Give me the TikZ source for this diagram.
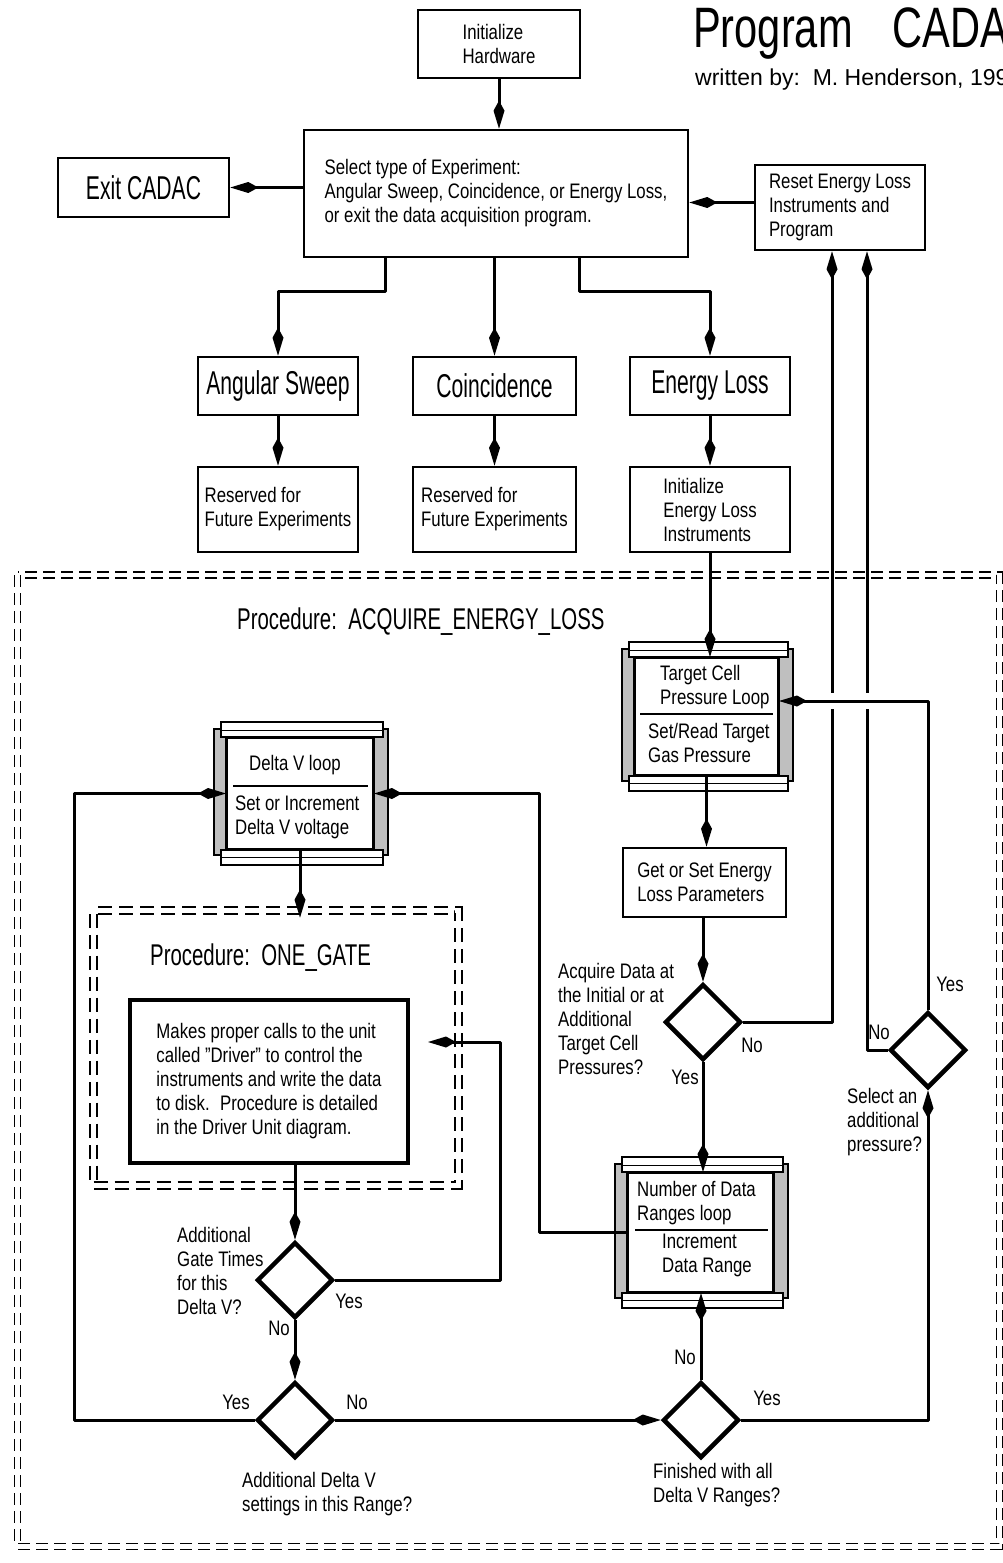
\documentclass[tikz,border=0pt]{standalone}
\usepackage{fontspec}
\setmainfont{Liberation Sans}[FakeStretch=0.8]
\newfontfamily\bigf{Liberation Sans}[FakeStretch=0.64]
\newfontfamily\procf{Liberation Sans}[FakeStretch=0.68]
\newfontfamily\titlef{Liberation Sans}[FakeStretch=0.73]
\newfontfamily\authf{Liberation Sans}
\usetikzlibrary{arrows.meta,shapes.geometric,calc,backgrounds}
\newcommand\txt{\fontsize{21}{24}\selectfont}
\newcommand\bigtxt{\bigf\fontsize{33}{36}\selectfont}
\newcommand\proctxt{\procf\fontsize{30}{32}\selectfont}
\newcommand\loopframe[1]{%
  \fill[gray!50] ($(#1.north west)+(-12,-8)$) rectangle ($(#1.south west)+(0,5)$);
  \draw[line width=1.2pt] ($(#1.north west)+(-12,-8)$) rectangle ($(#1.south west)+(0,5)$);
  \fill[gray!50] ($(#1.north east)+(0,-8)$) rectangle ($(#1.south east)+(14,5)$);
  \draw[line width=1.2pt] ($(#1.north east)+(0,-8)$) rectangle ($(#1.south east)+(14,5)$);
  \draw[line width=1.5pt,fill=white] ($(#1.north west)+(-5,-15)$) rectangle ($(#1.north east)+(9,0)$);
  \draw[line width=1pt] ($(#1.north west)+(-5,-7)$) -- ($(#1.north east)+(9,-7)$);
  \draw[line width=1.5pt,fill=white] ($(#1.south west)+(-5,0)$) rectangle ($(#1.south east)+(9,15)$);
  \draw[line width=1pt] ($(#1.south west)+(-5,7)$) -- ($(#1.south east)+(9,7)$);
}
\tikzset{
  box/.style={draw, line width=2.6pt, inner sep=0pt, align=left, font=\txt, fill=white},
  bigbox/.style={box, font=\bigtxt, align=center},
  loopbox/.style={draw, line width=2pt, inner sep=0pt, fill=white},
  dia/.style={draw, diamond, aspect=1, line width=4.5pt, inner sep=0pt, minimum width=76pt, minimum height=76pt},
  conn/.style={line width=3pt, line join=round},
  arr/.style={conn, -{Kite[length=28pt,width=11pt,inset=10pt]}},
  lbl/.style={font=\txt, inner sep=0pt},
  qtext/.style={font=\txt, inner sep=0pt, align=left},
  divider/.style={line width=1.6pt},
  dbldash/.style={draw, line width=1.5pt, double, double distance=4.5pt, dash pattern=on 12pt off 6pt},
}
\begin{document}
\begin{tikzpicture}[x=1pt,y=-1pt]
\useasboundingbox (0,0) rectangle (1003,1563);
\clip (0,0) rectangle (1003,1563);

% title
\node[anchor=base west, inner sep=0pt, font=\titlef\fontsize{57}{60}\selectfont] (title) at (693,48) {Program\hspace{40pt}CADAC};
\node[anchor=base west, inner sep=0pt, font=\authf\fontsize{23}{26}\selectfont] (author) at (695,85) {written by:\ \ M. Henderson, 199};

% dashed procedure frames
\draw[dbldash] (17.5,575) rectangle (999.5,1546.5);
\node[dbldash, minimum width=365pt, minimum height=275pt, inner sep=0pt, line width=1.6pt, double distance=5.5pt, dash pattern=on 14pt off 7pt] (og) at (276,1048) {};

\node[font=\proctxt, inner sep=0pt, anchor=west] (procacq) at (237,622) {Procedure:\ \ ACQUIRE\_ENERGY\_LOSS};
\node[font=\proctxt, inner sep=0pt, anchor=west] (procone) at (150,958) {Procedure:\ \ ONE\_GATE};

% top boxes
\node[box, minimum width=162pt, minimum height=68pt] (init) at (499,44) {Initialize\\Hardware};
\node[box, minimum width=384pt, minimum height=127pt] (select) at (496,193.5)
  {Select type of Experiment:\\Angular Sweep, Coincidence, or Energy Loss,\\or exit the data acquisition program.};
\node[bigbox, minimum width=171pt, minimum height=59pt] (exitc) at (143.5,187.5) {Exit\hspace{6pt}CADAC};
\node[box, minimum width=170pt, minimum height=85pt] (reset) at (840,207.5) {Reset Energy Loss\\Instruments and\\Program};

\node[bigbox, minimum width=160pt, minimum height=58pt] (angular) at (278,386) {Angular Sweep};
\node[bigbox, minimum width=163pt, minimum height=58pt] (coinc) at (494.5,386) {Coincidence};
\node[bigbox, minimum width=160pt, minimum height=58pt] (eloss) at (710,386) {Energy Loss};

\node[box, minimum width=160pt, minimum height=85pt] (res1) at (278,509.5) {Reserved for\\Future Experiments};
\node[box, minimum width=163pt, minimum height=85pt] (res2) at (494.5,509.5) {Reserved for\\Future Experiments};
\node[box, minimum width=160pt, minimum height=85pt] (initel) at (710,509.5) {Initialize\\Energy Loss\\Instruments};

% loop boxes (inner rectangles)
\node[loopbox, minimum width=143pt, minimum height=117pt] (tloop) at (706.5,716.5) {};
\node[loopbox, minimum width=146pt, minimum height=111pt] (dloop) at (300,793.5) {};
\node[loopbox, minimum width=145pt, minimum height=119pt] (nloop) at (700.5,1232.5) {};
\begin{scope}[on background layer]
  \loopframe{tloop}
  \loopframe{dloop}
  \loopframe{nloop}
\end{scope}
\node[qtext, anchor=west] (tl1) at (660,687) {Target Cell\\Pressure Loop};
\draw[divider] (640,714) -- (773,714);
\node[qtext, anchor=west] (tl2) at (648,743) {Set/Read Target\\Gas Pressure};

\node[qtext] (dl1) at (295,765) {Delta V loop};
\draw[divider] (233,786) -- (368,786);
\node[qtext, anchor=west] (dl2) at (235,817) {Set or Increment\\Delta V voltage};

\node[qtext, anchor=west] (nl1) at (637,1203) {Number of Data\\Ranges loop};
\draw[divider] (635,1230) -- (768,1230);
\node[qtext, anchor=west] (nl2) at (662,1255) {Increment\\Data Range};

\node[box, minimum width=163pt, minimum height=69pt] (getset) at (704.5,882.5) {Get or Set Energy\\Loss Parameters};
\node[box, line width=4pt, minimum width=278pt, minimum height=163pt] (makes) at (269,1081.5)
  {Makes proper calls to the unit\\called "Driver" to control the\\instruments and write the data\\to disk.\enspace Procedure is detailed\\in the Driver Unit diagram.};

% decisions
\node[dia] (acq) at (703,1022) {};
\node[dia] (gate) at (295,1280) {};
\node[dia] (dv) at (295,1420) {};
\node[dia] (fin) at (701,1420) {};
\node[dia] (selp) at (928,1050) {};

\node[qtext, anchor=west] (acqq) at (558,1018.5) {Acquire Data at\\the Initial or at\\Additional\\Target Cell\\Pressures?};
\node[qtext, anchor=west] (gateq) at (177,1271) {Additional\\Gate Times\\for this\\Delta V?};
\node[qtext, anchor=west] (dvq) at (242,1494) {Additional Delta V\\settings in this Range?};
\node[qtext, anchor=west] (finq) at (653,1485) {Finished with all\\Delta V Ranges?};
\node[qtext, anchor=west] (selpq) at (847,1122) {Select an\\additional\\pressure?};

\node[lbl] (acqno) at (752,1045) {No};
\node[lbl] (acqyes) at (685,1077) {Yes};
\node[lbl] (selpyes) at (950,984) {Yes};
\node[lbl] (selpno) at (879,1032) {No};
\node[lbl] (gateyes) at (349,1301) {Yes};
\node[lbl] (gateno) at (279,1328) {No};
\node[lbl] (dvyes) at (236,1402) {Yes};
\node[lbl] (dvno) at (357,1402) {No};
\node[lbl] (finno) at (685,1357) {No};
\node[lbl] (finyes) at (767,1398) {Yes};

% connectors (top part)
\draw[arr] (init.south) -- (init.south |- select.north);
\draw[arr] (select.west |- exitc.east) -- (exitc.east);
\draw[arr] ([yshift=5pt]reset.west) -- ([yshift=5pt]reset.west -| select.east);
\draw[arr] ([xshift=-111pt]select.south) -- ++(0,33) -| (angular.north);
\draw[arr] (coinc.north |- select.south) -- (coinc.north);
\draw[arr] ([xshift=83pt]select.south) -- ++(0,33) -| (eloss.north);
\draw[arr] (angular.south) -- (res1.north);
\draw[arr] (coinc.south) -- (res2.north);
\draw[arr] (eloss.south) -- (initel.south |- initel.north);
\draw[arr] (initel.south) -- (initel.south |- tloop.north);

% energy loss procedure
\draw[arr] (tloop.south) -- (tloop.south |- getset.north);
\draw[arr] (getset.south -| acq.north) -- (acq.north);
\draw[arr] (acq.south) -- (acq.south |- nloop.north);
\draw[arr] (acq.east) -| ([xshift=-8pt]reset.south);
\draw[arr] (selp.west) -| ([xshift=27pt]reset.south);
\draw[white, line width=16pt] ([yshift=15.5pt,xshift=25pt]tloop.east) -- ([yshift=15.5pt]tloop.east -| selp.north);
\draw[arr] (selp.north) |- ([yshift=15.5pt]tloop.east);
\draw[arr] (fin.east) -| (selp.south);
\draw[arr] (fin.north) -- (fin.north |- nloop.south);
\draw[arr] (dv.east) -- (fin.west);
\draw[arr] (dv.west) -- ++(-180,0) |- (dloop.west);
\draw[arr] (nloop.west) -- ++(-88,0) |- (dloop.east);
\draw[arr, shorten >=-8pt] (dloop.south) -- (dloop.south |- og.north);
\draw[arr] (makes.south -| gate.north) -- (gate.north);
\coordinate (gtip) at (428,1042);
\draw[arr] (gate.east) -- ++(165,0) |- (gtip);
\draw[arr] (gate.south) -- (dv.north);
\end{tikzpicture}
\end{document}
